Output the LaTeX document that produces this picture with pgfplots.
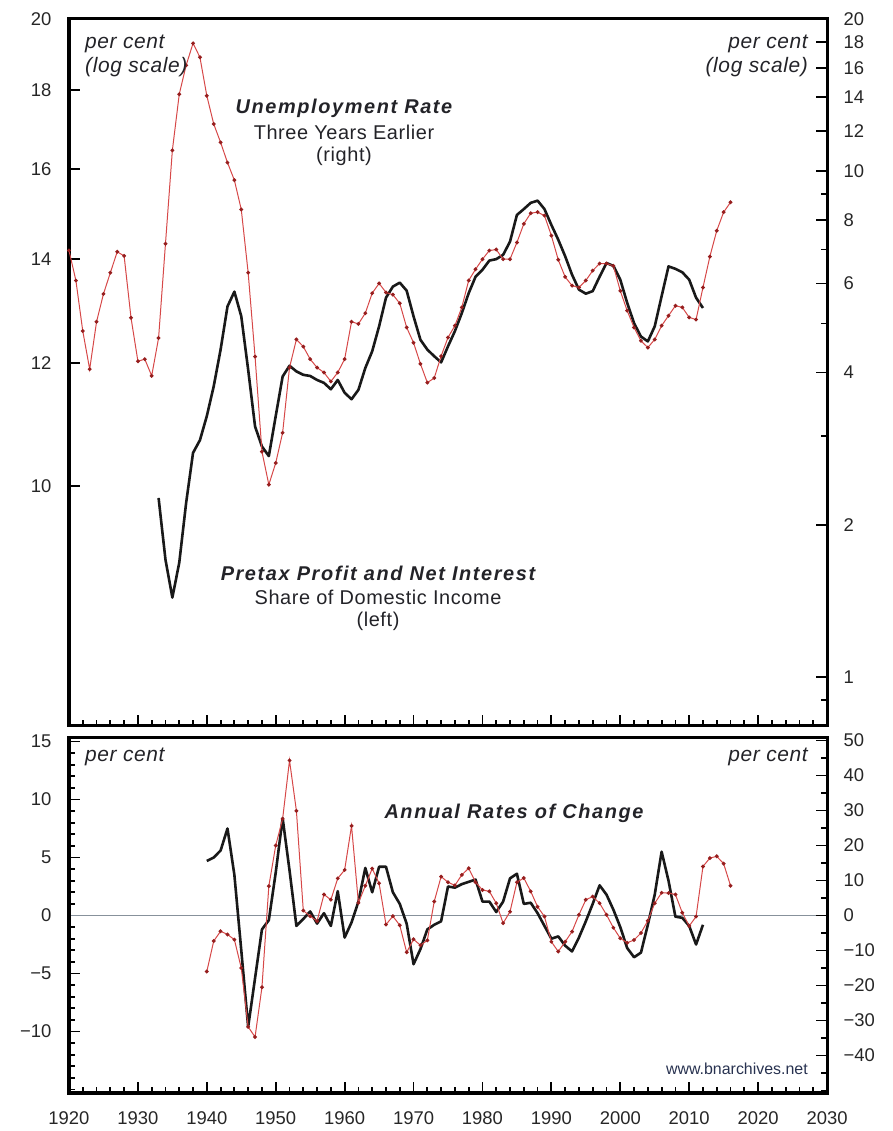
\documentclass[border=0pt]{standalone}
\usepackage{pgfplots}
\usepackage{pgfplotstable}
\pgfplotsset{compat=1.18}
\usepackage{fontspec}
\setmainfont{Liberation Sans}
\newfontfamily\notefont{Liberation Sans}[LetterSpace=3]
\newfontfamily\titlefont{Liberation Sans}[LetterSpace=8]

\definecolor{redline}{RGB}{214,72,72}
\definecolor{redmark}{RGB}{150,30,30}
\definecolor{blk}{RGB}{25,25,25}
\definecolor{zerol}{RGB}{135,145,155}
\definecolor{txt}{RGB}{35,35,40}

% Top panel: unemployment rate three years earlier (right, log)
\pgfplotstableread{
year val
1920 6.97
1921 6.08
1922 4.83
1923 4.06
1924 5.04
1925 5.72
1926 6.3
1927 6.93
1928 6.8
1929 5.13
1930 4.21
1931 4.25
1932 3.94
1933 4.68
1934 7.19
1935 11.0
1936 14.2
1937 16.2
1938 17.9
1939 16.8
1940 14.1
1941 12.4
1942 11.4
1943 10.4
1944 9.6
1945 8.4
1946 6.3
1947 4.3
1948 2.79
1949 2.40
1950 2.65
1951 3.04
1952 4.09
1953 4.65
1954 4.5
1955 4.25
1956 4.09
1957 4.0
1958 3.84
1959 4.0
1960 4.25
1961 5.04
1962 4.99
1963 5.24
1964 5.74
1965 6.0
1966 5.76
1967 5.7
1968 5.48
1969 4.91
1970 4.58
1971 4.16
1972 3.82
1973 3.9
1974 4.31
1975 4.69
1976 4.95
1977 5.38
1978 6.08
1979 6.4
1980 6.7
1981 6.97
1982 7.0
1983 6.7
1984 6.7
1985 7.23
1986 7.87
1987 8.26
1988 8.3
1989 8.17
1990 7.46
1991 6.68
1992 6.18
1993 5.94
1994 5.89
1995 6.08
1996 6.36
1997 6.57
1998 6.57
1999 6.5
2000 5.8
2001 5.3
2002 4.91
2003 4.62
2004 4.48
2005 4.65
2006 4.95
2007 5.18
2008 5.42
2009 5.38
2010 5.14
2011 5.09
2012 5.89
2013 6.78
2014 7.63
2015 8.3
2016 8.68
}\unempLevel

% Top panel: pretax profit and net interest share (left, log)
\pgfplotstableread{
year val
1933 9.82
1934 8.96
1935 8.47
1936 8.92
1937 9.75
1938 10.5
1939 10.7
1940 11.09
1941 11.59
1942 12.24
1943 13.05
1944 13.34
1945 12.86
1946 11.88
1947 10.92
1948 10.6
1949 10.45
1950 11.09
1951 11.76
1952 11.95
1953 11.85
1954 11.79
1955 11.77
1956 11.7
1957 11.65
1958 11.54
1959 11.7
1960 11.48
1961 11.37
1962 11.53
1963 11.91
1964 12.21
1965 12.67
1966 13.22
1967 13.44
1968 13.52
1969 13.36
1970 12.86
1971 12.42
1972 12.24
1973 12.12
1974 12.01
1975 12.3
1976 12.58
1977 12.92
1978 13.31
1979 13.64
1980 13.78
1981 13.97
1982 14.0
1983 14.09
1984 14.37
1985 14.95
1986 15.08
1987 15.22
1988 15.27
1989 15.08
1990 14.73
1991 14.41
1992 14.06
1993 13.68
1994 13.38
1995 13.3
1996 13.35
1997 13.64
1998 13.92
1999 13.86
2000 13.58
2001 13.12
2002 12.73
2003 12.48
2004 12.39
2005 12.67
2006 13.25
2007 13.85
2008 13.8
2009 13.73
2010 13.58
2011 13.22
2012 13.02
}\profitLevel

% Bottom panel: annual rates of change
\pgfplotstableread{
year val
1940 4.7
1941 5.0
1942 5.6
1943 7.5
1944 3.5
1945 -3.0
1946 -9.6
1947 -5.4
1948 -1.2
1949 -0.4
1950 3.7
1951 8.4
1952 3.9
1953 -0.9
1954 -0.3
1955 0.35
1956 -0.7
1957 0.2
1958 -0.9
1959 2.1
1960 -1.9
1961 -0.6
1962 1.2
1963 4.1
1964 2.0
1965 4.2
1966 4.2
1967 2.0
1968 1.0
1969 -0.7
1970 -4.2
1971 -2.9
1972 -1.2
1973 -0.8
1974 -0.5
1975 2.5
1976 2.4
1977 2.7
1978 2.9
1979 3.1
1980 1.2
1981 1.2
1982 0.3
1983 1.2
1984 3.2
1985 3.6
1986 1.0
1987 1.1
1988 0.2
1989 -0.9
1990 -2.0
1991 -1.8
1992 -2.6
1993 -3.1
1994 -1.9
1995 -0.5
1996 1.0
1997 2.6
1998 1.8
1999 0.5
2000 -1.0
2001 -2.8
2002 -3.6
2003 -3.2
2004 -0.8
2005 1.8
2006 5.5
2007 3.0
2008 -0.1
2009 -0.2
2010 -0.9
2011 -2.5
2012 -0.8
}\profitChange

\pgfplotstableread{
year val
1940 -16
1941 -7.3
1942 -4.5
1943 -5.4
1944 -6.9
1945 -15
1946 -31.8
1947 -34.7
1948 -20.5
1949 8.4
1950 20
1951 27.6
1952 44.3
1953 29.9
1954 1.4
1955 -0.2
1956 -1.6
1957 6
1958 4.5
1959 10.6
1960 13
1961 25.6
1962 3.6
1963 8.5
1964 13.4
1965 9.2
1966 -2.6
1967 -0.2
1968 -2.8
1969 -10.5
1970 -6.8
1971 -8.5
1972 -7.1
1973 4
1974 11.1
1975 9.5
1976 8.6
1977 11.6
1978 13.5
1979 9.5
1980 7.3
1981 6.9
1982 3.5
1983 -2.2
1984 1.1
1985 9.5
1986 10.7
1987 6.9
1988 2.5
1989 -0.3
1990 -7.5
1991 -10.3
1992 -7.5
1993 -4.6
1994 0.2
1995 4.5
1996 5.4
1997 3.5
1998 0.2
1999 -3.5
2000 -6.5
2001 -7.8
2002 -7.0
2003 -5.0
2004 -1.5
2005 3.5
2006 6.5
2007 6.4
2008 6.0
2009 0.8
2010 -3.0
2011 -0.3
2012 14.0
2013 16.4
2014 16.9
2015 14.8
2016 8.5
}\unempChange

\pgfplotsset{
  panel/.style={
    scale only axis, width=758bp, anchor=south west,
    xmin=1920, xmax=2030,
    axis line style={line width=3bp, black},
    tick align=inside,
    major tick length=11bp, minor tick length=6bp,
    every tick/.style={black, line width=1.8bp},
    tick label style={font=\fontsize{18.5}{20}\selectfont, text=black!85},
  },
  blackline/.style={blk, line width=2.6bp, line join=round},
  redseries/.style={redline, line width=1bp, mark=*, mark size=1.4bp,
    mark options={draw=redmark, fill=redmark}},
}

\begin{document}
\begin{tikzpicture}
\useasboundingbox (0,0) rectangle (893bp,1131bp);

% ---------- top panel, left axis ----------
\begin{axis}[panel, height=707bp, at={(69bp,405bp)},
  ymode=log, ymin=7, ymax=20,
  ytick={10,12,14,16,18,20}, yticklabels={10,12,14,16,18,20},
  ytick pos=left, yticklabel style={xshift=-14bp},
  xtick={1920,1930,...,2030}, minor x tick num=4, xtick pos=left,
  xticklabels={}]
\addplot[blackline] table[x=year,y=val] {\profitLevel};
\end{axis}

% ---------- top panel, right axis ----------
\begin{axis}[panel, height=707bp, at={(69bp,405bp)},
  ymode=log, ymin=0.8, ymax=20,
  ytick={1,2,4,6,8,10,12,14,16,18,20}, yticklabels={1,2,4,6,8,10,12,14,16,18,20},
  minor ytick={0.9,3,5,7,9},
  ytick pos=right, yticklabel pos=right, yticklabel style={xshift=13bp},
  xtick=\empty]
\addplot[redseries] table[x=year,y=val] {\unempLevel};
\end{axis}

% ---------- bottom panel, left axis ----------
\begin{axis}[panel, height=355bp, at={(69bp,38bp)},
  ymin=-15.3, ymax=15.3,
  ytick={-10,-5,0,5,10,15}, yticklabels={−10,−5,0,5,10,15},
  minor ytick={-15,-14,...,15},
  ytick pos=left, yticklabel style={xshift=-14bp},
  xtick={1920,1930,...,2030}, minor x tick num=4, xtick pos=left,
  xticklabels={1920,1930,1940,1950,1960,1970,1980,1990,2000,2010,2020,2030},
  xticklabel style={yshift=-15bp}]
\addplot[zerol, line width=1.3bp] coordinates {(1920,0) (2030,0)};
\addplot[blackline] table[x=year,y=val] {\profitChange};
\end{axis}

% ---------- bottom panel, right axis ----------
\begin{axis}[panel, height=355bp, at={(69bp,38bp)},
  ymin=-50.7, ymax=50.7,
  ytick={-40,-30,...,50}, yticklabels={−40,−30,−20,−10,0,10,20,30,40,50},
  minor ytick={-50,-45,...,50},
  ytick pos=right, yticklabel pos=right, yticklabel style={xshift=13bp},
  xtick=\empty]
\addplot[redseries] table[x=year,y=val] {\unempChange};
\end{axis}

% ---------- annotations ----------
\tikzset{note/.style={inner sep=0, text=txt, align=center, font=\notefont\fontsize{20}{21.5}\selectfont},
         unit/.style={inner sep=0, text=txt, font=\notefont\itshape\fontsize{21}{24}\selectfont},
         ttl/.style={inner sep=0, text=txt, font=\titlefont\bfseries\itshape\fontsize{20}{24}\selectfont}}
\node[unit, anchor=north west, align=left] at (85bp,1096bp) {per cent\\(log scale)};
\node[unit, anchor=north east, align=right] at (808bp,1096bp) {per cent\\(log scale)};

\node[ttl] at (344bp,1023bp) {Unemployment Rate};
\node[note, anchor=north] at (344bp,1006bp) {Three Years Earlier\\(right)};

\node[ttl] at (378bp,558bp) {Pretax Profit and Net Interest};
\node[note, anchor=north] at (378bp,541bp) {Share of Domestic Income\\(left)};

\node[unit, anchor=west] at (85bp,374bp) {per cent};
\node[unit, anchor=east] at (808bp,374bp) {per cent};
\node[ttl] at (514bp,318bp) {Annual Rates of Change};
\node[inner sep=0, anchor=east, text={rgb,255:red,40;green,50;blue,80}, font=\fontsize{16}{18}\selectfont] at (808bp,62bp) {www.bnarchives.net};
\end{tikzpicture}
\end{document}
